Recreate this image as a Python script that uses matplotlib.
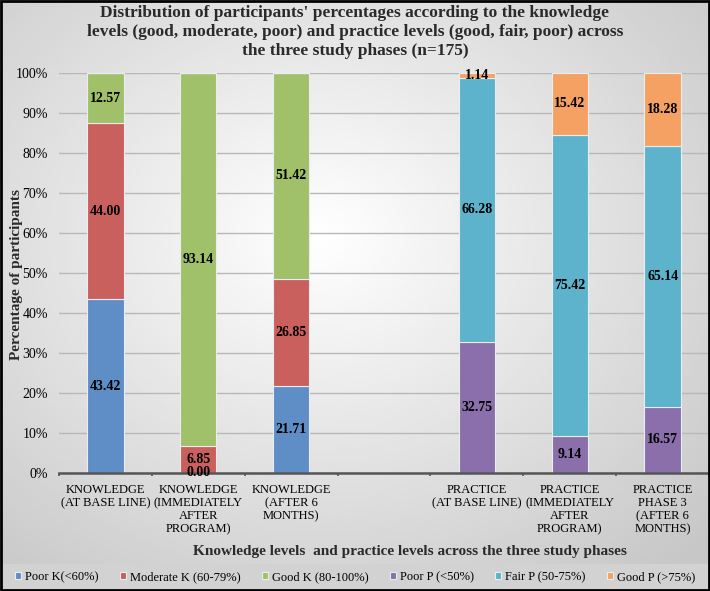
import numpy as np
import matplotlib
matplotlib.use('Agg')
import matplotlib.pyplot as plt
from matplotlib.patches import Rectangle

plt.rcParams['font.family'] = ['Liberation Serif', 'DejaVu Serif']

categories = ['KNOWLEDGE\n(AT BASE LINE)', 'KNOWLEDGE\n(IMMEDIATELY\nAFTER\nPROGRAM)',
              'KNOWLEDGE\n(AFTER 6\nMONTHS)', '',
              'PRACTICE\n(AT BASE LINE)', 'PRACTICE\n(IMMEDIATELY\nAFTER\nPROGRAM)',
              'PRACTICE\nPHASE 3\n(AFTER 6\nMONTHS)']

series_names = ['Poor K(<60%)', 'Moderate K (60-79%)', 'Good K (80-100%)',
                'Poor P (<50%)', 'Fair P (50-75%)', 'Good P (>75%)']
poor_k = [43.42, 0.00, 21.71, None, None, None, None]
moderate_k = [44.00, 6.85, 26.85, None, None, None, None]
good_k = [12.57, 93.14, 51.42, None, None, None, None]
poor_p = [None, None, None, None, 32.75, 9.14, 16.57]
fair_p = [None, None, None, None, 66.28, 75.42, 65.14]
good_p = [None, None, None, None, 1.14, 15.42, 18.28]
colors = ['#5f8dc6', '#c9605e', '#a1c06a', '#8a6fab', '#5db3cc', '#f5a163']

series = [poor_k, moderate_k, good_k, poor_p, fair_p, good_p]

W, H = 710, 591
fig = plt.figure(figsize=(W / 100, H / 100), dpi=100)

# background gradient
bg = fig.add_axes([0, 0, 1, 1], zorder=-10)
yy, xx = np.mgrid[0:1:200j, 0:1:200j]
r = np.sqrt((xx - 0.45) ** 2 + (yy - 0.6) ** 2)
bg.imshow(1 - 0.22 * np.clip(r / 0.75, 0, 1), cmap='gray', vmin=0, vmax=1,
          extent=[0, 1, 0, 1], aspect='auto', origin='lower')
bg.add_patch(Rectangle((0, 0), 1, 27 / H, color='#d2d2d2', zorder=2))
bg.set_xlim(0, 1)
bg.set_ylim(0, 1)
bg.axis('off')

ax = fig.add_axes([59 / W, 118 / H, 650 / W, 400 / H])
ax.set_facecolor('none')

x = np.arange(len(categories))
# 100% stacked like Excel
totals = np.zeros(len(categories))
for s in series:
    totals += np.array([v if v is not None else 0 for v in s])
totals[totals == 0] = 1

bottom = np.zeros(len(categories))
for name, s, c in zip(series_names, series, colors):
    vals = np.array([v if v is not None else 0 for v in s])
    h = vals / totals * 100
    ax.bar(x, h, 0.39, bottom=bottom, color=c, edgecolor='#e8eef0', linewidth=0.8,
           label=name, zorder=3)
    for xi, v, hi, b in zip(x, s, h, bottom):
        if v is None:
            continue
        ax.text(xi, b + hi / 2, '{:.2f}'.format(v), ha='center', va='center',
                fontsize=10, fontweight='bold', color='black', zorder=5)
    bottom += h

ax.set_xlim(-0.5, 6.5)
ax.set_ylim(0, 100)
ax.set_yticks(np.arange(0, 101, 10))
ax.set_yticklabels(['{}%'.format(v) for v in range(0, 101, 10)], fontsize=10)
ax.tick_params(axis='y', length=0, pad=8)
ax.set_xticks(x)
ax.set_xticklabels(categories, fontsize=9, linespacing=1.1)
ax.tick_params(axis='x', which='major', length=0, pad=8)
ax.set_xticks(np.arange(-0.5, 7, 1), minor=True)
ax.tick_params(axis='x', which='minor', length=2, width=1.2, color='#555555')
ax.grid(axis='y', color='#b8b8b8', linewidth=1, zorder=0)
for sp in ['top', 'right', 'left']:
    ax.spines[sp].set_visible(False)
ax.spines['bottom'].set_color('#555555')
ax.spines['bottom'].set_linewidth(1.8)
ax.spines['bottom'].set_zorder(4)

title_lines = ["Distribution of participants' percentages according to the knowledge",
               "levels (good, moderate, poor) and practice levels (good, fair, poor) across",
               "the three study phases (n=175)"]
for i, line in enumerate(title_lines):
    fig.text(0.5, 1 - (13 + 19 * i) / H, line, ha='center', va='center',
             fontsize=12.5, fontweight='bold', color='#2a2a2a')
fig.text(17 / W, 1 - 275 / H, 'Percentage of participants', rotation=90,
         ha='center', va='center', fontsize=11, fontweight='bold', color='#2a2a2a')
fig.text(410 / W, 1 - 552 / H,
         'Knowledge levels  and practice levels across the three study phases',
         ha='center', va='center', fontsize=11, fontweight='bold', color='#2a2a2a')

fig.legend(loc='center', bbox_to_anchor=(0.5, 14 / H), ncol=6, frameon=False,
           fontsize=9, handlelength=0.5, handleheight=0.5, handletextpad=0.3,
           columnspacing=1.7, borderaxespad=0, borderpad=0)

fig.add_artist(Rectangle((0.001, 0.001), 0.997, 0.997, transform=fig.transFigure,
                         fill=False, edgecolor='black', linewidth=2))

fig.savefig('out.png', dpi=100)
